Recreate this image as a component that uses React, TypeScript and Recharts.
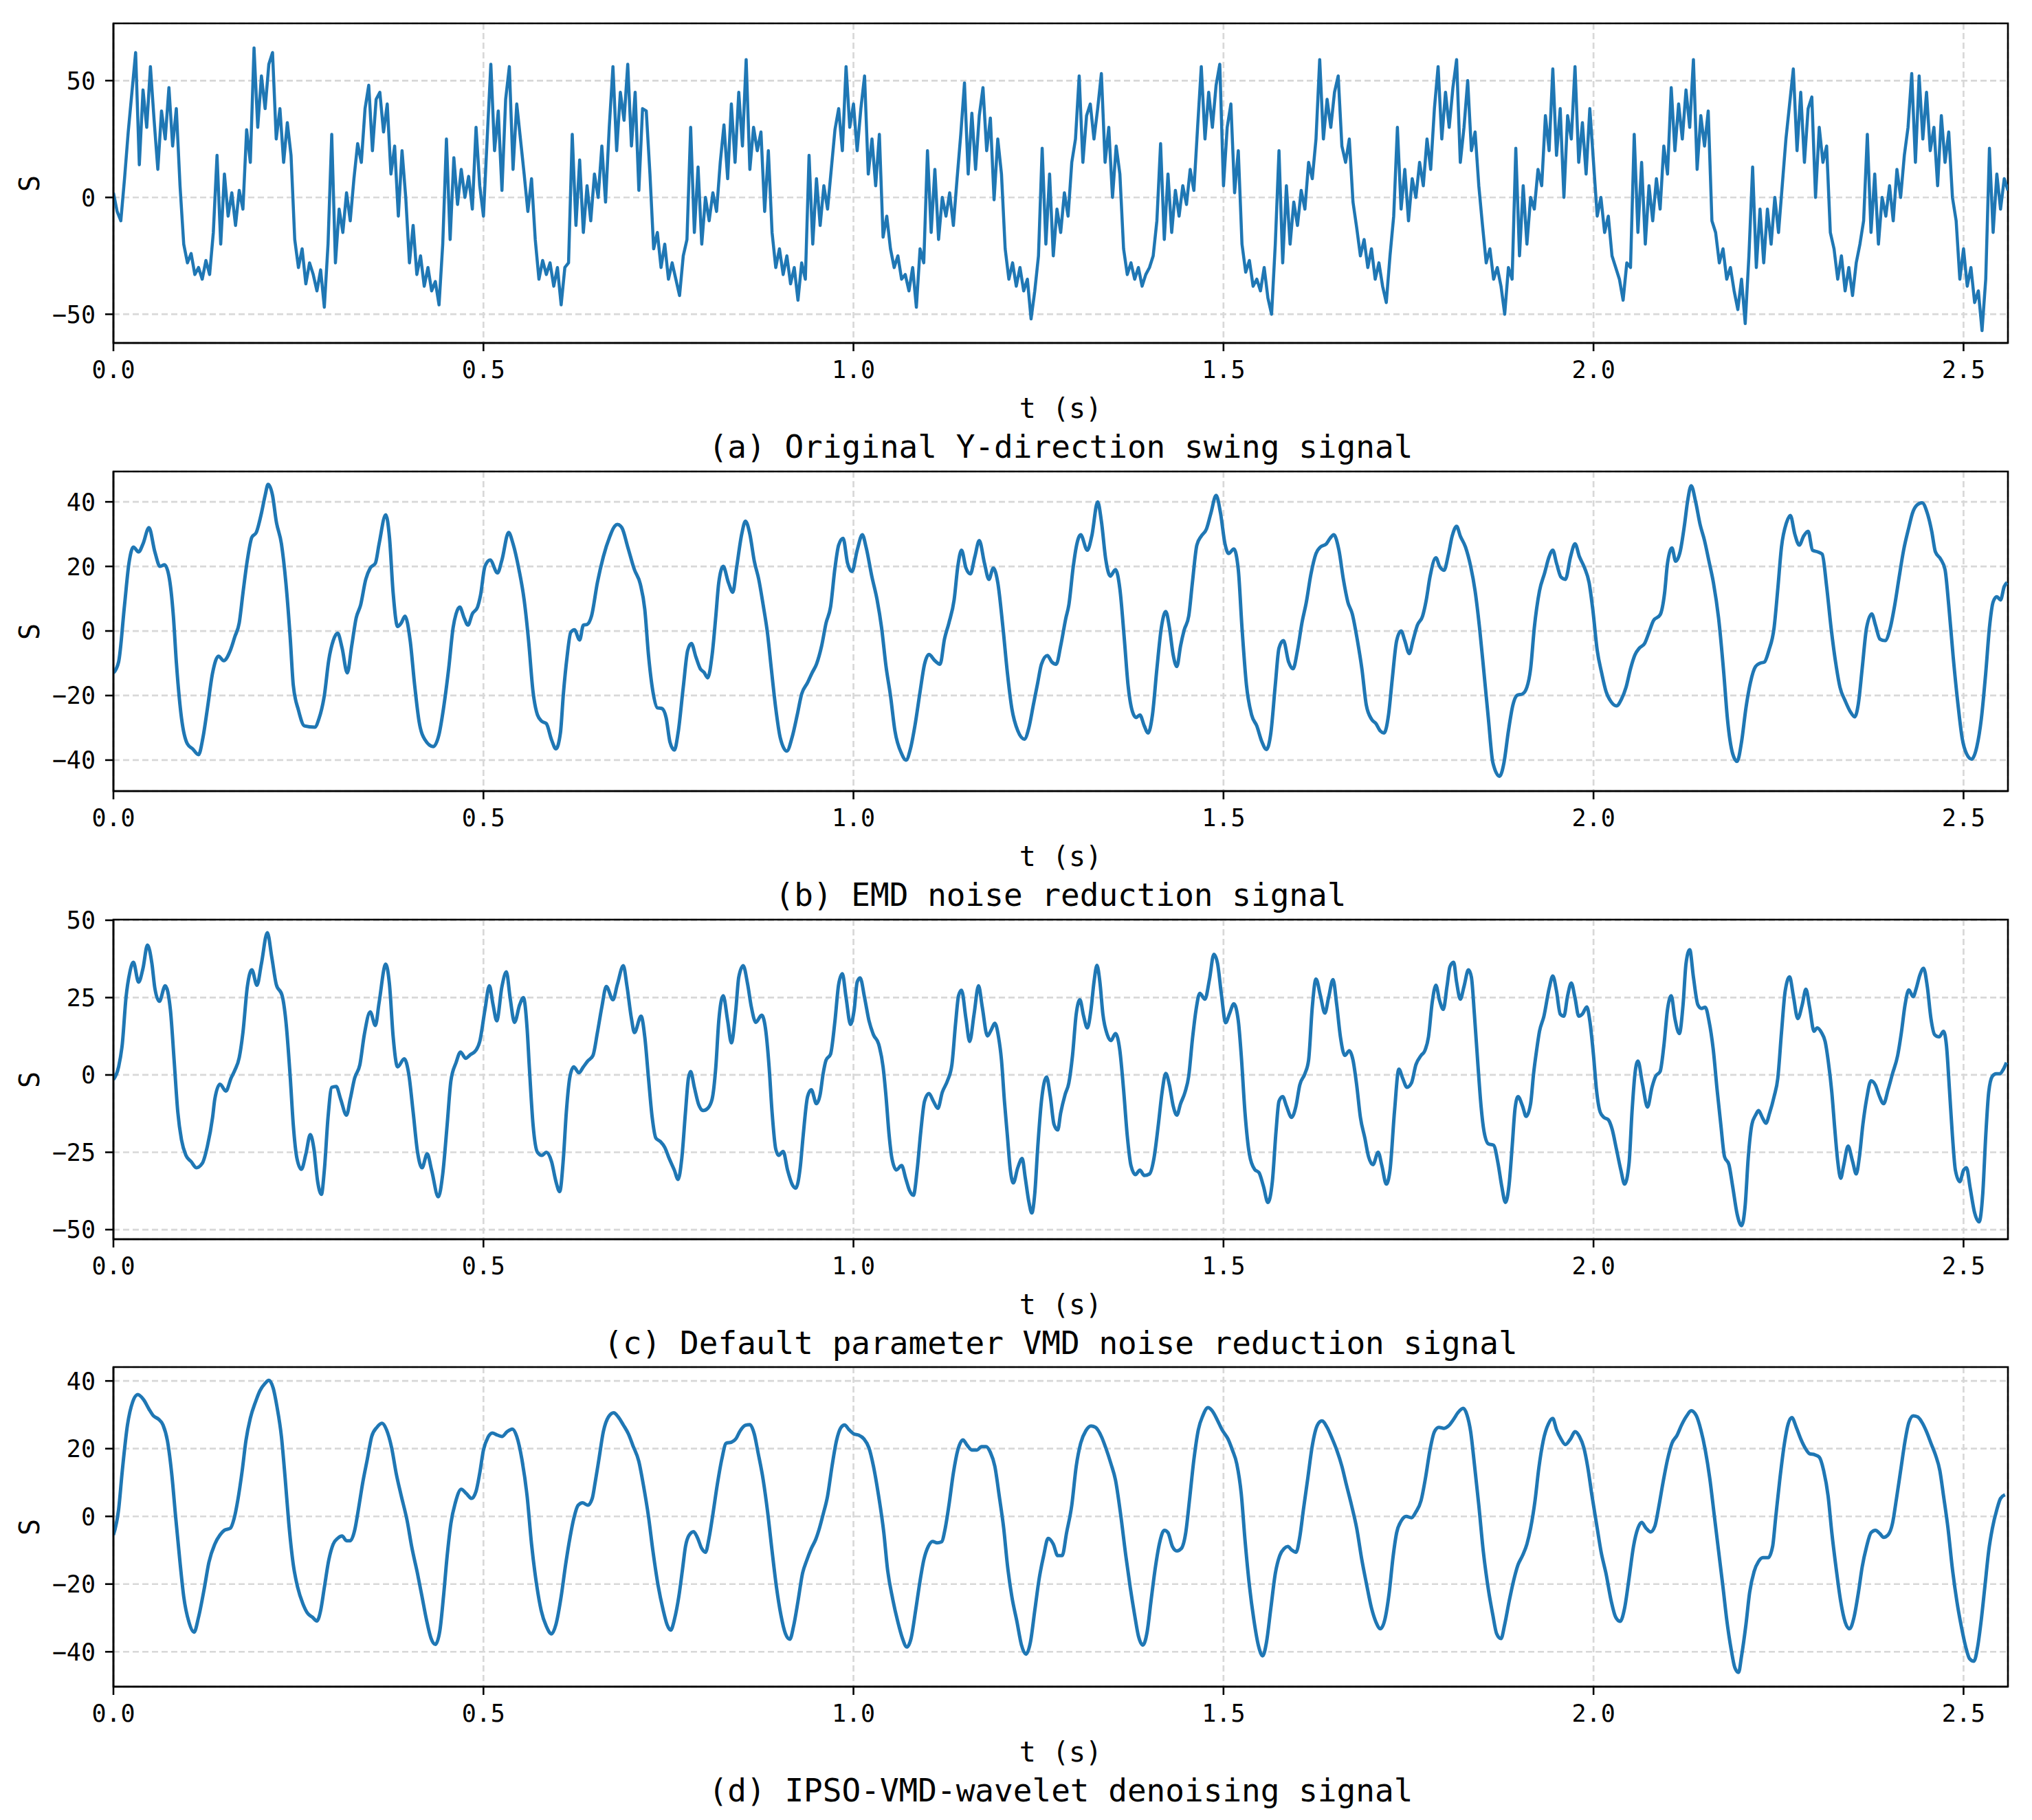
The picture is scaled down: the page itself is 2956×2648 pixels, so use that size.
import React from "react";
import { LineChart, Line, XAxis, YAxis, CartesianGrid, ReferenceArea } from "recharts";

const FONT = "'DejaVu Sans Mono', 'Liberation Mono', monospace";
const BLUE = "#1f77b4";

// time axis, shared by all four panels
const timeTicks = [0, 0.5, 1.0, 1.5, 2.0, 2.5];
const T_END = 2.56;
const RAW_STEP = 0.005;

// (a) raw swing signal, one value every RAW_STEP seconds
const rawSignal = [
  2, -6, -10, 8, 28, 45, 62, 14, 46, 30, 56, 33, 12, 37, 25, 47, 22, 38, 5, -20,
  -28, -24, -33, -30, -35, -27, -33, -15, 18, -20, 10, -8, 2, -12, 3, -5, 29, 15, 64, 30,
  52, 38, 57, 62, 25, 38, 15, 32, 18, -18, -30, -22, -37, -28, -33, -40, -31, -47, -20, 27,
  -28, -5, -15, 2, -10, 8, 23, 15, 38, 48, 20, 42, 45, 28, 40, 10, 22, -8, 20, 0,
  -28, -12, -33, -25, -38, -30, -40, -36, -46, -20, 25, -18, 17, -3, 12, 0, 9, -5, 30, 5,
  -8, 25, 57, 20, 37, 3, 42, 56, 12, 40, 25, 10, -6, 8, -18, -35, -27, -33, -28, -38,
  -30, -46, -30, -28, 27, -12, 16, -15, 5, -10, 10, 0, 22, -2, 30, 56, 20, 45, 33, 57,
  22, 45, 3, 38, 37, 10, -22, -15, -30, -20, -35, -28, -35, -42, -25, -18, 30, -15, 13, -20,
  0, -10, 2, -6, 15, 31, 8, 40, 15, 45, 22, 59, 12, 30, 20, 28, -6, 20, -15, -30,
  -22, -33, -25, -37, -30, -44, -28, -35, 18, -20, 8, -12, 5, -5, 12, 29, 38, 20, 56, 30,
  40, 20, 38, 52, 10, 25, 5, 27, -17, -8, -22, -30, -25, -35, -33, -40, -30, -47, -22, -28,
  20, -15, 12, -18, 0, -8, 2, -12, 8, 27, 49, 10, 36, 12, 35, 47, 20, 34, -1, 25,
  10, -22, -35, -28, -38, -30, -40, -35, -52, -40, -25, 21, -20, 10, -25, -5, -15, 2, -8, 15,
  25, 52, 15, 35, 40, 25, 38, 53, 15, 30, 0, 22, 10, -22, -33, -28, -35, -30, -38, -33,
  -30, -25, -10, 23, -18, 10, -15, 3, -8, 5, -3, 12, 3, 30, 56, 25, 45, 30, 48, 57,
  5, 30, 40, 2, 20, -20, -32, -27, -38, -35, -40, -30, -43, -50, -20, 20, -28, 5, -20, -2,
  -12, 3, -5, 15, 8, 25, 59, 25, 42, 30, 45, 52, 22, 15, 25, -2, -13, -25, -18, -30,
  -22, -35, -28, -38, -45, -25, -8, 30, -5, 12, -10, 8, 0, 15, 5, 25, 12, 38, 56, 25,
  45, 30, 47, 59, 15, 30, 50, 20, 28, 5, -12, -28, -22, -35, -30, -38, -50, -30, -35, 21,
  -25, 5, -20, 0, -5, 12, 5, 35, 20, 55, 18, 38, 0, 35, 25, 56, 15, 32, 10, 38,
  15, -8, 0, -15, -8, -25, -30, -35, -44, -28, -30, 27, -15, 15, -20, 5, -10, 8, -5, 22,
  10, 47, 20, 40, 25, 46, 30, 59, 12, 35, 22, 37, -10, -15, -28, -22, -35, -30, -40, -48,
  -35, -54, -25, 13, -30, -5, -28, -5, -20, 0, -15, 5, 25, 40, 55, 20, 45, 15, 38, 43,
  0, 30, 15, 22, -15, -22, -35, -25, -40, -30, -42, -28, -20, -10, 27, -15, 10, -20, 0, -8,
  5, -10, 12, 0, 18, 30, 53, 15, 52, 25, 45, 20, 30, 5, 35, 15, 28, 0, -10, -35,
  -22, -38, -30, -45, -40, -57, -35, 21, -15, 10, -5, 8, 3,
];

// (b) EMD result, [t, S]
const emdSignal: [number, number][] = [
  [0, -13], [0.007, -9.6], [0.015, 8], [0.021, 21], [0.027, 26], [0.034, 24.5], [0.04, 27], [0.048, 32], [0.056, 24.5], [0.063, 20],
  [0.069, 20.5], [0.075, 17], [0.081, 4.6], [0.085, -9.6], [0.092, -27], [0.1, -35], [0.107, -36.5], [0.115, -38.3], [0.121, -33], [0.127, -24],
  [0.134, -13], [0.142, -7.8], [0.149, -9.2], [0.158, -6], [0.164, -1.8], [0.17, 2.5], [0.175, 11.7], [0.181, 22], [0.187, 29], [0.193, 30.5],
  [0.2, 36.5], [0.205, 42], [0.209, 45.4], [0.215, 42], [0.22, 34], [0.227, 27], [0.233, 15], [0.239, -2.5], [0.243, -16.7], [0.25, -24.5],
  [0.258, -29.4], [0.272, -29.8], [0.278, -27], [0.285, -20], [0.291, -9], [0.297, -3], [0.303, -0.7], [0.309, -5.3], [0.316, -13], [0.322, -4.6],
  [0.328, 4], [0.334, 8], [0.341, 16], [0.347, 19.5], [0.354, 21], [0.359, 27], [0.368, 36], [0.373, 29], [0.378, 11.7], [0.384, 1.4],
  [0.389, 2.5], [0.394, 4.6], [0.401, -3], [0.407, -16.7], [0.413, -28], [0.421, -33.7], [0.432, -35.8], [0.44, -32], [0.446, -24], [0.453, -11.7],
  [0.459, 1], [0.463, 5.3], [0.468, 7.4], [0.474, 4], [0.479, 1.8], [0.485, 5.3], [0.492, 7.4], [0.496, 11], [0.502, 20], [0.509, 22],
  [0.519, 18], [0.525, 22], [0.534, 30.5], [0.54, 27], [0.548, 19], [0.555, 9.6], [0.561, -3], [0.567, -18.8], [0.573, -26], [0.579, -28],
  [0.585, -28.7], [0.592, -33.7], [0.598, -36.5], [0.604, -31.6], [0.608, -19.5], [0.613, -8], [0.618, -0.4], [0.623, 0.4], [0.63, -2.8], [0.635, 1.8],
  [0.64, 2], [0.646, 4.6], [0.654, 15], [0.662, 23], [0.671, 29.4], [0.676, 32], [0.681, 33], [0.687, 32], [0.695, 26], [0.704, 19],
  [0.712, 14.5], [0.718, 6.7], [0.723, -7.4], [0.729, -18.8], [0.735, -23.8], [0.741, -24], [0.747, -27], [0.752, -34.4], [0.758, -36.9], [0.763, -31.6],
  [0.77, -17.4], [0.776, -6], [0.781, -3.9], [0.787, -8], [0.793, -11.7], [0.798, -12.8], [0.803, -14.5], [0.809, -7.4], [0.814, 4.6], [0.818, 15],
  [0.824, 20], [0.831, 15], [0.837, 12], [0.842, 19.5], [0.849, 30], [0.854, 34], [0.86, 30], [0.866, 21.6], [0.872, 16], [0.878, 8],
  [0.884, -1], [0.889, -11.7], [0.895, -24], [0.901, -33], [0.91, -37.2], [0.917, -33], [0.924, -26], [0.93, -19.5], [0.938, -16], [0.944, -13],
  [0.95, -10.3], [0.957, -4.6], [0.963, 2.5], [0.969, 7.4], [0.975, 19.5], [0.98, 26.6], [0.986, 28.7], [0.992, 21], [0.998, 18.4], [1.005, 25],
  [1.012, 29.8], [1.017, 26], [1.025, 16.7], [1.032, 9.6], [1.038, 1], [1.044, -11], [1.05, -20], [1.056, -30.9], [1.065, -38], [1.071, -40],
  [1.077, -36.5], [1.083, -29.4], [1.09, -18.8], [1.096, -10.3], [1.102, -7.3], [1.11, -9.2], [1.117, -10.3], [1.123, -2.5], [1.129, 2.5], [1.136, 9.6],
  [1.141, 20], [1.146, 25], [1.152, 19.5], [1.158, 17.7], [1.164, 23], [1.17, 28], [1.177, 21], [1.183, 16], [1.189, 19.5], [1.195, 15],
  [1.202, 1], [1.208, -13], [1.214, -24], [1.222, -30.9], [1.231, -33.5], [1.237, -30], [1.243, -23], [1.249, -16], [1.254, -10.3], [1.262, -7.6],
  [1.268, -9.6], [1.274, -10.3], [1.28, -4.6], [1.287, 4], [1.291, 8], [1.297, 20], [1.301, 26], [1.307, 29.8], [1.316, 25], [1.322, 29.4],
  [1.33, 40], [1.335, 34], [1.341, 22], [1.347, 17], [1.354, 19], [1.36, 13], [1.366, -2.5], [1.371, -16.7], [1.377, -25], [1.382, -26.8],
  [1.387, -26], [1.393, -29.4], [1.398, -31.6], [1.404, -26], [1.41, -11.7], [1.416, 1], [1.422, 6], [1.427, 1], [1.432, -7.4], [1.437, -11],
  [1.442, -4.6], [1.447, 0.4], [1.453, 4.6], [1.458, 15], [1.464, 26.6], [1.47, 29.4], [1.477, 31.6], [1.483, 36.5], [1.49, 42], [1.496, 36.5],
  [1.502, 27], [1.507, 24], [1.514, 25.4], [1.52, 19], [1.525, 1], [1.531, -16.7], [1.538, -26], [1.545, -29.4], [1.552, -34.4], [1.558, -36.7],
  [1.564, -31.6], [1.57, -16.7], [1.575, -5.3], [1.581, -3], [1.588, -9.6], [1.594, -11.7], [1.6, -6], [1.606, 2.5], [1.612, 9], [1.618, 17.4],
  [1.625, 24], [1.631, 26], [1.639, 27], [1.644, 28.7], [1.649, 29.8], [1.656, 25], [1.662, 16], [1.668, 9], [1.674, 5.3], [1.681, -3],
  [1.687, -11.7], [1.693, -23], [1.7, -27.3], [1.706, -28.7], [1.712, -31], [1.717, -31.6], [1.723, -26], [1.728, -15], [1.734, -3], [1.74, 0],
  [1.745, -3], [1.751, -7], [1.756, -3], [1.762, 1.8], [1.769, 4.6], [1.774, 9.6], [1.779, 16.7], [1.787, 22.7], [1.792, 20], [1.798, 18.8],
  [1.804, 23.8], [1.809, 29.4], [1.815, 32.4], [1.82, 29.4], [1.827, 26], [1.834, 20], [1.84, 12.4], [1.846, 1], [1.852, -13], [1.858, -27.3],
  [1.864, -40.8], [1.873, -45], [1.879, -40.8], [1.885, -31], [1.891, -23], [1.897, -19.9], [1.904, -19.5], [1.91, -17.4], [1.915, -11.7], [1.92, 1],
  [1.927, 12.4], [1.934, 18], [1.94, 23], [1.945, 25], [1.95, 21], [1.956, 16.7], [1.962, 16], [1.969, 23], [1.975, 27], [1.981, 23],
  [1.988, 19.5], [1.994, 15], [1.999, 6.7], [2.005, -6], [2.011, -13], [2.017, -18.8], [2.024, -22], [2.031, -23.2], [2.038, -21], [2.044, -17.4],
  [2.05, -11.7], [2.056, -7.4], [2.062, -5.3], [2.069, -3.9], [2.075, -0.4], [2.081, 3.2], [2.09, 5], [2.096, 11.7], [2.1, 21], [2.106, 25.7],
  [2.111, 21.6], [2.117, 24.5], [2.123, 33], [2.127, 40], [2.132, 45], [2.138, 40], [2.144, 33], [2.15, 28], [2.156, 21.6], [2.162, 15],
  [2.169, 4], [2.176, -13], [2.181, -27.3], [2.188, -38], [2.194, -40.4], [2.2, -34.4], [2.206, -23.8], [2.212, -16], [2.219, -11], [2.225, -10],
  [2.231, -9.6], [2.237, -6], [2.244, 1], [2.249, 13], [2.254, 26], [2.261, 33.7], [2.266, 35.8], [2.272, 30], [2.278, 26.6], [2.284, 29.4],
  [2.29, 30.9], [2.296, 25], [2.303, 24.5], [2.309, 23.8], [2.315, 13.8], [2.321, 1], [2.328, -11], [2.333, -17.4], [2.34, -21.6], [2.347, -25],
  [2.353, -26.6], [2.358, -22.3], [2.363, -11.7], [2.369, 1], [2.376, 5.3], [2.381, 1.8], [2.387, -2.5], [2.394, -3], [2.401, 1], [2.407, 8],
  [2.413, 16.7], [2.419, 25], [2.426, 32], [2.431, 36.5], [2.437, 39], [2.444, 39.7], [2.451, 36.5], [2.457, 30.9], [2.462, 24.5], [2.469, 22.3],
  [2.475, 19], [2.48, 8], [2.486, -8], [2.493, -23.8], [2.498, -33], [2.504, -38], [2.511, -39.7], [2.518, -35.8], [2.524, -27.3], [2.53, -13],
  [2.535, 1], [2.54, 9], [2.545, 10.6], [2.55, 9.6], [2.555, 13.8], [2.559, 15],
];

// (c) default VMD result, [t, S]
const vmdSignal: [number, number][] = [
  [0, -1.5], [0.007, 2.6], [0.012, 10], [0.017, 25], [0.022, 33], [0.027, 36.4], [0.034, 30], [0.04, 34.5], [0.046, 42], [0.052, 36],
  [0.056, 28], [0.062, 23.8], [0.07, 28.8], [0.077, 21], [0.082, 4.8], [0.087, -12], [0.092, -21], [0.098, -26], [0.105, -28], [0.112, -30],
  [0.12, -28.6], [0.127, -23], [0.134, -13.7], [0.137, -7.8], [0.144, -3], [0.152, -5.2], [0.159, -1], [0.164, 1.5], [0.17, 5.6], [0.175, 13.7],
  [0.181, 28.6], [0.187, 34], [0.194, 29], [0.2, 36], [0.208, 46], [0.214, 38], [0.22, 29.3], [0.228, 25.6], [0.233, 17.5], [0.239, -1],
  [0.243, -16], [0.248, -27], [0.254, -30.5], [0.26, -25.6], [0.266, -19.3], [0.271, -24], [0.276, -34.5], [0.281, -38.6], [0.285, -30.8], [0.29, -13.7],
  [0.295, -4], [0.301, -3.7], [0.307, -7.8], [0.315, -13], [0.32, -7.8], [0.326, -1], [0.333, 3.3], [0.339, 13], [0.347, 20.4], [0.354, 16],
  [0.359, 23.4], [0.368, 35.8], [0.373, 29.3], [0.378, 12.3], [0.384, 2.6], [0.393, 5.2], [0.399, 0.4], [0.405, -12], [0.411, -25], [0.417, -30],
  [0.424, -25.5], [0.43, -30.8], [0.439, -39.4], [0.445, -32], [0.451, -16], [0.456, -1.9], [0.463, 4], [0.469, 7.4], [0.476, 5.4], [0.482, 6.5],
  [0.49, 8], [0.495, 10.8], [0.502, 21], [0.508, 28.8], [0.513, 22.7], [0.518, 17.5], [0.525, 28.6], [0.531, 33.3], [0.536, 25], [0.542, 17],
  [0.549, 22.7], [0.554, 25], [0.559, 15], [0.562, 2.6], [0.567, -16], [0.573, -25], [0.579, -26], [0.585, -25], [0.592, -28], [0.598, -34.5],
  [0.603, -37.7], [0.608, -27], [0.612, -12], [0.617, -0.4], [0.622, 2.6], [0.629, 0.7], [0.635, 2.6], [0.641, 4.5], [0.648, 6.3], [0.654, 13.7],
  [0.66, 22], [0.666, 28.6], [0.675, 24.3], [0.681, 29.3], [0.689, 35.3], [0.694, 28.6], [0.7, 18.2], [0.704, 13.7], [0.713, 19], [0.718, 12.3],
  [0.723, -1], [0.728, -13.7], [0.733, -20.4], [0.739, -21.5], [0.745, -23.4], [0.751, -27], [0.758, -30.8], [0.763, -33.8], [0.768, -27], [0.773, -12],
  [0.777, -1], [0.78, 1.1], [0.785, -4], [0.791, -9.7], [0.797, -11.5], [0.803, -10.8], [0.809, -7.8], [0.814, 2.6], [0.818, 17.5], [0.824, 25.6],
  [0.83, 17.5], [0.835, 10.4], [0.841, 21], [0.845, 31.6], [0.851, 35.3], [0.857, 29.3], [0.862, 22], [0.868, 17], [0.876, 19.3], [0.881, 15.2],
  [0.886, 2.6], [0.89, -12], [0.895, -24], [0.899, -26], [0.905, -24.7], [0.911, -30.8], [0.917, -35.3], [0.922, -36.6], [0.928, -30], [0.932, -19.7],
  [0.938, -7], [0.943, -4.8], [0.95, -9.3], [0.955, -6.3], [0.959, 0.4], [0.963, 4.8], [0.969, 6.7], [0.975, 17.5], [0.98, 29.3], [0.985, 32.7],
  [0.99, 25], [0.996, 16.3], [1.001, 21.2], [1.005, 30], [1.009, 31.4], [1.015, 25], [1.021, 17.5], [1.027, 13], [1.034, 10], [1.04, 2.6],
  [1.044, -7], [1.048, -19], [1.052, -27], [1.058, -30.7], [1.065, -29.3], [1.071, -33.8], [1.076, -37.5], [1.081, -38.9], [1.086, -30.8], [1.091, -18.2],
  [1.096, -8.5], [1.102, -6], [1.108, -8.5], [1.114, -10.8], [1.12, -5.6], [1.127, -1.9], [1.133, 3.3], [1.138, 16.7], [1.142, 25.6], [1.146, 27.4],
  [1.152, 18.2], [1.157, 10.8], [1.163, 19.7], [1.169, 28.8], [1.174, 22], [1.181, 12.6], [1.186, 14.5], [1.191, 16.7], [1.196, 12.3], [1.2, 4.8],
  [1.204, -8.5], [1.208, -19.7], [1.212, -30.8], [1.216, -34.9], [1.222, -30], [1.228, -27], [1.232, -33], [1.237, -41], [1.241, -44.6], [1.245, -38.3],
  [1.249, -23.4], [1.254, -8.5], [1.261, -0.7], [1.266, -7], [1.271, -16], [1.276, -17.8], [1.28, -12.3], [1.286, -6.3], [1.291, -2.6], [1.296, 6.3],
  [1.301, 19.7], [1.306, 24.3], [1.311, 19], [1.316, 15.2], [1.321, 21.2], [1.325, 30], [1.329, 35.4], [1.333, 30], [1.337, 19.7], [1.343, 13],
  [1.348, 11.1], [1.354, 13.4], [1.36, 7.8], [1.365, -4.8], [1.37, -19.7], [1.375, -29.3], [1.381, -32.2], [1.387, -30.8], [1.393, -32.5], [1.4, -32],
  [1.406, -27], [1.412, -16], [1.417, -5.6], [1.422, 0.5], [1.427, -3.3], [1.432, -10], [1.437, -13], [1.442, -9.3], [1.448, -5.6], [1.453, -0.4],
  [1.458, 11.5], [1.463, 21.2], [1.468, 26.4], [1.475, 24.5], [1.481, 30.8], [1.487, 39], [1.492, 36], [1.497, 26.4], [1.503, 16.9], [1.508, 19.7],
  [1.514, 23], [1.52, 17.5], [1.524, 6.3], [1.529, -12], [1.535, -25.6], [1.542, -30.5], [1.548, -31.6], [1.554, -36], [1.56, -41.2], [1.566, -34.5],
  [1.571, -18.2], [1.575, -8.5], [1.58, -7], [1.585, -10], [1.592, -13.7], [1.598, -10], [1.603, -3.3], [1.61, 0.4], [1.615, 4.8], [1.62, 22],
  [1.625, 31], [1.631, 25.6], [1.637, 20], [1.642, 25], [1.648, 30.8], [1.653, 22.7], [1.658, 12.3], [1.664, 6.3], [1.67, 7.8], [1.675, 4.8],
  [1.68, -3.3], [1.685, -13.7], [1.691, -20.4], [1.696, -26.4], [1.702, -29], [1.709, -25], [1.714, -29.3], [1.72, -35.3], [1.725, -30.8], [1.731, -12],
  [1.737, 1.9], [1.742, -1], [1.748, -4], [1.754, -2.6], [1.76, 3.3], [1.767, 6.3], [1.772, 7.8], [1.777, 12.3], [1.782, 23.4], [1.787, 29],
  [1.792, 24], [1.797, 21.2], [1.802, 28.6], [1.806, 35], [1.811, 36.4], [1.815, 30], [1.82, 24.5], [1.825, 28.6], [1.831, 34], [1.835, 31.6],
  [1.839, 19.7], [1.844, 2.6], [1.848, -10], [1.852, -18.2], [1.858, -22.3], [1.865, -22.7], [1.871, -28.6], [1.876, -36], [1.881, -41.2], [1.886, -35.3],
  [1.89, -23.4], [1.894, -10.8], [1.898, -7], [1.904, -10], [1.909, -13.4], [1.915, -9.3], [1.919, 0.4], [1.923, 7.8], [1.927, 14.1], [1.933, 19],
  [1.94, 27.9], [1.945, 32], [1.95, 27.1], [1.955, 19.7], [1.96, 19], [1.965, 25.6], [1.97, 29.7], [1.975, 24.9], [1.98, 19], [1.985, 19.7],
  [1.991, 22], [1.995, 17.5], [2.0, 6.3], [2.004, -4.8], [2.009, -12], [2.014, -13.7], [2.02, -14.5], [2.025, -17.4], [2.031, -24], [2.037, -30.8],
  [2.042, -35.3], [2.048, -28.6], [2.052, -12], [2.056, 0.4], [2.06, 4.5], [2.066, -2.6], [2.073, -10.4], [2.079, -4], [2.084, -0.4], [2.09, 1.1],
  [2.095, 9.3], [2.1, 21.2], [2.105, 25.6], [2.11, 18.2], [2.116, 13.4], [2.121, 22.7], [2.125, 36], [2.13, 40.5], [2.135, 31.6], [2.141, 22.7],
  [2.146, 21.5], [2.151, 21.9], [2.156, 17.5], [2.162, 7.8], [2.167, -4.8], [2.172, -16], [2.177, -26.4], [2.183, -29], [2.188, -36], [2.194, -44.9],
  [2.2, -48.7], [2.205, -42], [2.209, -27], [2.214, -16], [2.219, -13], [2.223, -11.5], [2.228, -13.7], [2.233, -15.6], [2.238, -12.3], [2.244, -7],
  [2.249, -1.1], [2.254, 13.7], [2.259, 27.1], [2.265, 31.7], [2.27, 25.6], [2.276, 18.2], [2.282, 22.7], [2.287, 27.7], [2.292, 21.9], [2.298, 14.1],
  [2.302, 15.2], [2.308, 13.7], [2.313, 10.8], [2.317, 4.8], [2.322, -5.6], [2.326, -17.4], [2.33, -27.9], [2.334, -33.4], [2.338, -29.3], [2.344, -23],
  [2.35, -27.9], [2.355, -32], [2.359, -27], [2.364, -16], [2.369, -7.8], [2.375, -1.9], [2.381, -3.3], [2.386, -6.7], [2.392, -9.3], [2.398, -4.8],
  [2.404, 0.4], [2.411, 6.3], [2.416, 13.7], [2.421, 22.7], [2.426, 27.5], [2.432, 25.3], [2.436, 27.9], [2.441, 32.3], [2.446, 34.5], [2.451, 28.6],
  [2.456, 18.2], [2.461, 13], [2.467, 12.3], [2.473, 14.1], [2.477, 9.3], [2.481, -4.8], [2.485, -19.7], [2.489, -30.8], [2.495, -34.5], [2.5, -30.8],
  [2.504, -30], [2.509, -36.6], [2.515, -44.6], [2.521, -47.5], [2.526, -38.3], [2.53, -19.7], [2.534, -5.6], [2.539, -0.4], [2.544, 0.4], [2.549, 0.4],
  [2.554, 1.9], [2.558, 4],
];

// (d) IPSO-VMD-wavelet result, [t, S]
const ipsoSignal: [number, number][] = [
  [0, -5.5], [0.007, 2], [0.012, 13.5], [0.019, 27], [0.026, 33.8], [0.033, 36], [0.041, 34.4], [0.048, 31.7], [0.054, 29.7], [0.061, 28.7],
  [0.067, 27], [0.073, 22.3], [0.079, 12.1], [0.084, 0], [0.09, -13.6], [0.095, -23.7], [0.102, -31.2], [0.109, -34.2], [0.115, -29.8], [0.123, -21],
  [0.129, -13.6], [0.137, -8.2], [0.144, -5.5], [0.15, -4.1], [0.158, -3.5], [0.163, -0.7], [0.168, 4.7], [0.174, 13.5], [0.179, 22.3], [0.185, 29],
  [0.192, 33.8], [0.198, 37.1], [0.205, 39.3], [0.21, 40.2], [0.216, 37.8], [0.221, 32.4], [0.227, 23.6], [0.232, 11.4], [0.237, -2.1], [0.243, -14.2],
  [0.249, -21], [0.256, -25.8], [0.262, -28.5], [0.269, -29.8], [0.275, -30.9], [0.28, -27.8], [0.285, -21], [0.291, -12.9], [0.297, -8.2], [0.303, -6.5],
  [0.309, -5.8], [0.315, -7.2], [0.32, -7.2], [0.326, -4.1], [0.331, 2], [0.337, 10.1], [0.343, 16.8], [0.349, 23.6], [0.356, 26.3], [0.363, 27.5],
  [0.369, 25.6], [0.376, 20.2], [0.382, 12.8], [0.389, 6], [0.397, -1.4], [0.403, -8.9], [0.411, -17], [0.417, -23.7], [0.423, -30.5], [0.429, -35.9],
  [0.435, -37.8], [0.441, -33.9], [0.446, -23.7], [0.451, -11.6], [0.456, -2.1], [0.462, 4], [0.47, 8], [0.477, 6.7], [0.484, 5.3], [0.49, 7.4],
  [0.495, 12.8], [0.5, 19.6], [0.506, 23.3], [0.512, 24.6], [0.519, 24], [0.525, 23.6], [0.532, 25], [0.539, 25.8], [0.545, 23.6], [0.552, 16.8],
  [0.559, 6], [0.565, -8.2], [0.572, -20.4], [0.578, -27.8], [0.585, -32.5], [0.592, -34.7], [0.598, -31.9], [0.605, -23.7], [0.611, -14.3], [0.617, -6.2],
  [0.622, -0.7], [0.628, 3.3], [0.634, 4], [0.641, 3.3], [0.647, 5.3], [0.651, 10.1], [0.656, 16.8], [0.662, 25], [0.669, 29.4], [0.676, 30.6],
  [0.682, 29.4], [0.689, 27], [0.696, 24.3], [0.702, 20.9], [0.71, 16.2], [0.716, 9.4], [0.723, 0], [0.729, -10.2], [0.736, -20.4], [0.743, -27.8],
  [0.748, -31.9], [0.753, -33.6], [0.758, -30.5], [0.764, -23.7], [0.769, -15.6], [0.773, -8.9], [0.778, -5.5], [0.784, -4.5], [0.789, -6.2], [0.795, -9.5],
  [0.8, -10.6], [0.805, -6.2], [0.81, 0.6], [0.816, 9.4], [0.822, 16.8], [0.828, 21.6], [0.835, 21.9], [0.841, 22.9], [0.847, 25.3], [0.854, 26.9],
  [0.86, 27.1], [0.866, 24.3], [0.871, 18.9], [0.878, 10.8], [0.884, 1.3], [0.89, -10.2], [0.896, -21], [0.902, -29.2], [0.908, -34.6], [0.914, -36.3],
  [0.919, -32.5], [0.925, -25.1], [0.931, -17], [0.937, -12.9], [0.943, -9.5], [0.949, -6.8], [0.954, -3.5], [0.959, 0.6], [0.965, 6], [0.971, 14.8],
  [0.977, 22.3], [0.983, 26.2], [0.988, 27], [0.994, 25.6], [1.001, 24.3], [1.007, 24], [1.014, 22.9], [1.021, 20.2], [1.027, 14.8], [1.034, 6],
  [1.041, -4.8], [1.046, -15.6], [1.053, -24.4], [1.06, -31.2], [1.066, -35.9], [1.072, -38.6], [1.078, -35.9], [1.084, -27.8], [1.09, -19], [1.095, -12.9],
  [1.101, -8.9], [1.107, -7.4], [1.113, -7.8], [1.119, -7.5], [1.124, -3.5], [1.129, 3.3], [1.135, 12.8], [1.141, 19.6], [1.148, 22.6], [1.153, 21.2],
  [1.16, 19.6], [1.167, 19.6], [1.173, 20.6], [1.179, 20.6], [1.185, 18.9], [1.191, 14.8], [1.197, 6], [1.203, -3.5], [1.208, -14.3], [1.214, -23.7],
  [1.221, -31.2], [1.227, -38], [1.233, -40.7], [1.239, -37.3], [1.245, -27.8], [1.251, -18.3], [1.257, -11.6], [1.263, -6.5], [1.27, -8.2], [1.276, -11.6],
  [1.282, -11.6], [1.288, -4.8], [1.295, 3.3], [1.301, 14.8], [1.307, 21.6], [1.314, 25.3], [1.321, 26.7], [1.327, 26.3], [1.335, 23.6], [1.341, 20.2],
  [1.348, 15.5], [1.354, 10.8], [1.361, 0.6], [1.368, -11.6], [1.374, -21], [1.38, -29.2], [1.385, -35.3], [1.391, -38], [1.397, -33.9], [1.402, -25.1],
  [1.408, -15], [1.414, -7.5], [1.42, -4.1], [1.425, -4.8], [1.431, -8.9], [1.437, -10.2], [1.443, -9.5], [1.449, -4.8], [1.454, 4.7], [1.46, 16.8],
  [1.466, 25.6], [1.472, 29.7], [1.479, 32.1], [1.485, 31.1], [1.492, 28.3], [1.498, 25.6], [1.506, 22.9], [1.512, 19.6], [1.518, 15.5], [1.524, 6.7],
  [1.529, -6.8], [1.535, -20.4], [1.541, -30.5], [1.547, -38], [1.553, -41.2], [1.558, -37.3], [1.564, -27.1], [1.57, -16.9], [1.576, -11.6], [1.582, -9.5],
  [1.587, -8.9], [1.592, -9.9], [1.598, -10.6], [1.603, -6.2], [1.608, 2], [1.614, 11.4], [1.62, 20.9], [1.627, 27], [1.633, 28.2], [1.64, 26.3],
  [1.647, 22.9], [1.653, 19.6], [1.66, 14.8], [1.666, 9.4], [1.673, 3.3], [1.68, -3.5], [1.687, -12.9], [1.693, -19.7], [1.7, -27.1], [1.706, -31.2],
  [1.712, -33.2], [1.718, -30.5], [1.724, -22.4], [1.729, -12.2], [1.734, -4.8], [1.74, -1.4], [1.747, 0], [1.754, -0.4], [1.76, 1.3], [1.767, 4.7],
  [1.773, 11.4], [1.779, 19.6], [1.785, 25], [1.791, 26.3], [1.798, 26], [1.804, 26.7], [1.811, 28.7], [1.817, 30.7], [1.824, 31.9], [1.829, 30],
  [1.834, 25], [1.839, 15.5], [1.845, 3.3], [1.851, -10.2], [1.858, -21.7], [1.864, -29.2], [1.869, -34.6], [1.875, -36.1], [1.88, -31.9], [1.886, -25.1],
  [1.892, -19], [1.898, -14.3], [1.904, -11.6], [1.91, -8.2], [1.915, -3.5], [1.921, 4.7], [1.926, 14.1], [1.932, 22.3], [1.939, 27.3], [1.945, 28.9],
  [1.95, 25.6], [1.956, 22.9], [1.962, 21.2], [1.969, 22.9], [1.975, 25], [1.981, 23.6], [1.987, 20.2], [1.992, 14.8], [1.998, 6], [2.005, -3.5],
  [2.01, -10.2], [2.017, -17], [2.024, -25.1], [2.03, -29.8], [2.036, -31], [2.042, -27.1], [2.048, -18.3], [2.054, -8.9], [2.06, -3.5], [2.065, -1.8],
  [2.071, -3.5], [2.077, -4.6], [2.083, -2.8], [2.088, 2.6], [2.094, 10.1], [2.1, 16.8], [2.106, 21.6], [2.113, 24], [2.119, 27], [2.126, 29.7],
  [2.132, 31.2], [2.139, 29.7], [2.145, 25.6], [2.151, 19.6], [2.157, 11.4], [2.163, 0.6], [2.169, -10.2], [2.175, -21], [2.18, -30.5], [2.186, -39.3],
  [2.191, -44.7], [2.196, -46.1], [2.2, -41.3], [2.206, -31.9], [2.211, -22.4], [2.217, -16.3], [2.223, -13.3], [2.229, -12.2], [2.236, -12.2], [2.242, -8.9],
  [2.246, -0.7], [2.252, 11.4], [2.258, 21.6], [2.263, 27.3], [2.268, 29.2], [2.274, 26.3], [2.28, 22.9], [2.286, 20.2], [2.292, 18.5], [2.299, 18.2],
  [2.305, 17.5], [2.311, 13.5], [2.317, 6], [2.322, -4.8], [2.328, -15.6], [2.334, -25.1], [2.34, -31.2], [2.346, -33.2], [2.352, -29.8], [2.358, -22.4],
  [2.363, -15], [2.369, -8.9], [2.375, -4.8], [2.381, -4.1], [2.387, -5.1], [2.392, -6.2], [2.398, -5.5], [2.404, -2.1], [2.409, 4.7], [2.415, 13.5],
  [2.421, 22.3], [2.426, 27.7], [2.432, 29.7], [2.438, 29.4], [2.444, 27.7], [2.45, 25], [2.456, 21.6], [2.462, 18.2], [2.468, 13.5], [2.473, 6],
  [2.479, -3.5], [2.485, -15.6], [2.491, -25.1], [2.497, -32.5], [2.503, -38.6], [2.508, -42], [2.514, -42.8], [2.519, -38.6], [2.524, -30.5], [2.529, -20.4],
  [2.534, -10.2], [2.539, -3.5], [2.545, 2], [2.55, 5.3], [2.556, 6.4],
];

const rawTicks = [-50, 0, 50];
const emdTicks = [-40, -20, 0, 20, 40];
const vmdTicks = [-50, -25, 0, 25, 50];
const ipsoTicks = [-40, -20, 0, 20, 40];

const titles = [
  "(a) Original Y-direction swing signal",
  "(b) EMD noise reduction signal",
  "(c) Default parameter VMD noise reduction signal",
  "(d) IPSO-VMD-wavelet denoising signal",
];

const fromPairs = (pairs: [number, number][]) => pairs.map(([t, s]) => ({ t, s }));

const panels = [
  { title: titles[0], data: rawSignal.map((s, i) => ({ t: i * RAW_STEP, s })), domain: [-62.3, 74.5], ticks: rawTicks, curve: "linear", width: 4.5, top: 34 },
  { title: titles[1], data: fromPairs(emdSignal), domain: [-49.6, 49.4], ticks: emdTicks, curve: "monotone", width: 5, top: 686 },
  { title: titles[2], data: fromPairs(vmdSignal), domain: [-53.1, 50.2], ticks: vmdTicks, curve: "monotone", width: 5, top: 1338 },
  { title: titles[3], data: fromPairs(ipsoSignal), domain: [-50.3, 44.1], ticks: ipsoTicks, curve: "monotone", width: 5, top: 1989 },
];

const W = 2956;
const PLOT_LEFT = 165;
const PLOT_RIGHT = 35;
const PLOT_H = 465;
const PAD_TOP = 30;
const AXIS_H = 80;

const fmtY = (v: number) => String(v).replace("-", "\u2212");
const fmtX = (v: number) => v.toFixed(1);
const tickStyle = { fontSize: 35, fill: "#000", fontFamily: FONT };
const spine = { stroke: "#000", strokeWidth: 2.6 };

function Panel({ p }: { p: (typeof panels)[number] }) {
  const plotW = W - PLOT_LEFT - PLOT_RIGHT;
  const cx = PLOT_LEFT + plotW / 2;
  const bottom = p.top + PLOT_H;
  return (
    <>
      <div style={{ position: "absolute", left: 0, top: p.top - PAD_TOP }}>
        <LineChart
          width={W}
          height={PAD_TOP + PLOT_H + AXIS_H}
          data={p.data}
          margin={{ top: PAD_TOP, right: PLOT_RIGHT, bottom: 0, left: 0 }}
        >
          <CartesianGrid stroke="#d8d8d8" strokeWidth={2.7} strokeDasharray="9 5" />
          <XAxis
            type="number"
            dataKey="t"
            domain={[0, T_END]}
            ticks={timeTicks}
            interval={0}
            allowDataOverflow
            height={AXIS_H}
            tickFormatter={fmtX}
            tick={tickStyle}
            tickSize={12}
            tickMargin={14}
            axisLine={spine}
            tickLine={spine}
          />
          <YAxis
            type="number"
            domain={p.domain}
            ticks={p.ticks}
            interval={0}
            allowDataOverflow
            width={PLOT_LEFT}
            tickFormatter={fmtY}
            tick={tickStyle}
            tickSize={12}
            tickMargin={14}
            axisLine={spine}
            tickLine={spine}
          />
          <Line
            dataKey="s"
            type={p.curve as any}
            stroke={BLUE}
            strokeWidth={p.width}
            strokeLinejoin="round"
            dot={false}
            activeDot={false}
            isAnimationActive={false}
          />
          <ReferenceArea
            x1={0}
            x2={T_END}
            y1={p.domain[0]}
            y2={p.domain[1]}
            fill="none"
            stroke="#000"
            strokeWidth={2.6}
          />
        </LineChart>
      </div>
      <div
        style={{
          position: "absolute",
          left: 43 - 50,
          top: p.top + PLOT_H / 2 - 25,
          width: 100,
          height: 50,
          lineHeight: "50px",
          textAlign: "center",
          transform: "rotate(-90deg)",
          fontFamily: FONT,
          fontSize: 40,
        }}
      >
        S
      </div>
      <div
        style={{
          position: "absolute",
          left: cx - 300,
          top: bottom + 95 - 25,
          width: 600,
          height: 50,
          lineHeight: "50px",
          textAlign: "center",
          fontFamily: FONT,
          fontSize: 40,
          whiteSpace: "pre",
        }}
      >
        t (s)
      </div>
      <div
        style={{
          position: "absolute",
          left: cx - 1200,
          top: bottom + 151 - 30,
          width: 2400,
          height: 60,
          lineHeight: "60px",
          textAlign: "center",
          fontFamily: FONT,
          fontSize: 46,
          whiteSpace: "pre",
        }}
      >
        {p.title}
      </div>
    </>
  );
}

export default function App() {
  return (
    <div
      style={{
        position: "absolute",
        left: 0,
        top: 0,
        width: W,
        height: 2648,
        background: "#fff",
        color: "#000",
        overflow: "hidden",
      }}
    >
      {panels.map((p) => (
        <Panel key={p.title} p={p} />
      ))}
    </div>
  );
}
